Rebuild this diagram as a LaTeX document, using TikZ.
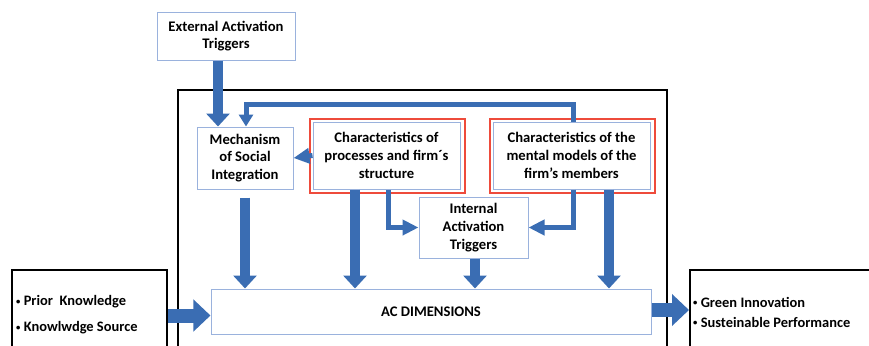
\documentclass[tikz,border=0pt]{standalone}
\usepackage{fontspec}
\setmainfont{Carlito}
\usetikzlibrary{arrows.meta}
\definecolor{arrblue}{HTML}{3A6DB3}
\definecolor{boxblue}{HTML}{9AB2DD}
\definecolor{redline}{HTML}{EE4B3B}
\newcommand{\smbul}{\raisebox{0.15ex}{\scalebox{0.6}{\textbullet}}}
\tikzset{
  bbox/.style={draw=boxblue, line width=1bp, fill=white, align=center, inner sep=0pt,
    font=\bfseries\fontsize{14.7}{17.8}\selectfont},
  redframe/.style={draw=redline, line width=2bp},
  blackbox/.style={draw=black, line width=2bp},
  bigv/.style={draw=arrblue, line width=10bp, -{Triangle[width=23bp,length=13bp]}},
  midarr/.style={draw=arrblue, line width=5bp, -{Triangle[width=15bp,length=16bp]}},
  fbarr/.style={draw=arrblue, line width=5bp, -{Triangle[width=14bp,length=12bp]}},
  bigh/.style={draw=arrblue, line width=14bp, -{Triangle[width=31bp,length=17bp]}},
  txt/.style={font=\bfseries\fontsize{14.5}{17}\selectfont, inner sep=0pt, anchor=west},
}
\begin{document}
\begin{tikzpicture}[x=1bp,y=-1bp]
\useasboundingbox (0,0) rectangle (869,345);
\begin{scope}
\clip (0,0) rectangle (869,345);
% big frame
\draw[blackbox] (178,90) rectangle (667,370);
% side boxes
\node[blackbox, minimum width=155bp, minimum height=100bp, inner sep=0pt] (lbox) at (89.5,320) {};
\node[blackbox, minimum width=190bp, minimum height=100bp, inner sep=0pt] (rbox) at (785,320) {};
\end{scope}
\node[txt] (t1) at (16,302) {\smbul\ Prior\ \ Knowledge};
\node[txt] (t2) at (16,328) {\smbul\ Knowlwdge Source};
\node[txt] (t3) at (693,302) {\smbul\ Green Innovation};
\node[txt] (t4) at (693,322) {\smbul\ Susteinable Performance};

% blue boxes
\node[bbox, minimum width=138bp, minimum height=48bp] (ext) at (226,36) {External Activation\\Triggers};
\node[bbox, minimum width=96bp, minimum height=62bp] (mech) at (245,158) {Mechanism\\of Social\\Integration};
\node[bbox, minimum width=147bp, minimum height=67bp] (proc) at (386.5,155.5) {Characteristics of\\processes and firm´s\\structure};
\node[bbox, minimum width=157bp, minimum height=67bp] (ment) at (571.5,155.5) {Characteristics of the\\mental models of the\\firm's members};
\node[bbox, minimum width=109bp, minimum height=61bp] (int) at (473.5,227.5) {Internal\\Activation\\Triggers};
\node[bbox, minimum width=440bp, minimum height=45bp] (ac) at (431,311.5) {AC DIMENSIONS};

% red frames
\draw[redframe] ([xshift=-3bp,yshift=-3bp]proc.south west) rectangle ([xshift=4bp,yshift=3bp]proc.north east);
\draw[redframe] ([xshift=-3bp,yshift=-3bp]ment.south west) rectangle ([xshift=4bp,yshift=3bp]ment.north east);

% arrows
\draw[bigv] ([xshift=-8bp]ext.south) -- ([xshift=-8bp]ext.south |- mech.north);
\draw[fbarr] ([xshift=1.5bp]ment.north) -- ++(0,-17) -| ([xshift=1bp]mech.north);
\draw[midarr] (proc.west) -- (mech.east);
\draw[midarr] ([xshift=1.5bp]proc.south) |- (int.west);
\draw[midarr] ([xshift=1.5bp]ment.south) |- (int.east);
\draw[bigv] ([yshift=-8bp]mech.south) -- (mech.south |- ac.north);
\draw[bigv] ([xshift=-31.5bp]proc.south) -- ([xshift=-31.5bp]proc.south |- ac.north);
\draw[bigv] ([xshift=1.5bp]int.south) -- ([xshift=1.5bp]int.south |- ac.north);
\draw[bigv] ([xshift=37.5bp]ment.south) -- ([xshift=37.5bp]ment.south |- ac.north);
\draw[bigh] ([yshift=-4bp]lbox.east |- ac.west) -- ([yshift=-4bp]ac.west);
\draw[bigh] ([yshift=1.5bp]ac.east) -- ([yshift=1.5bp]ac.east -| rbox.west);
\end{tikzpicture}
\end{document}
